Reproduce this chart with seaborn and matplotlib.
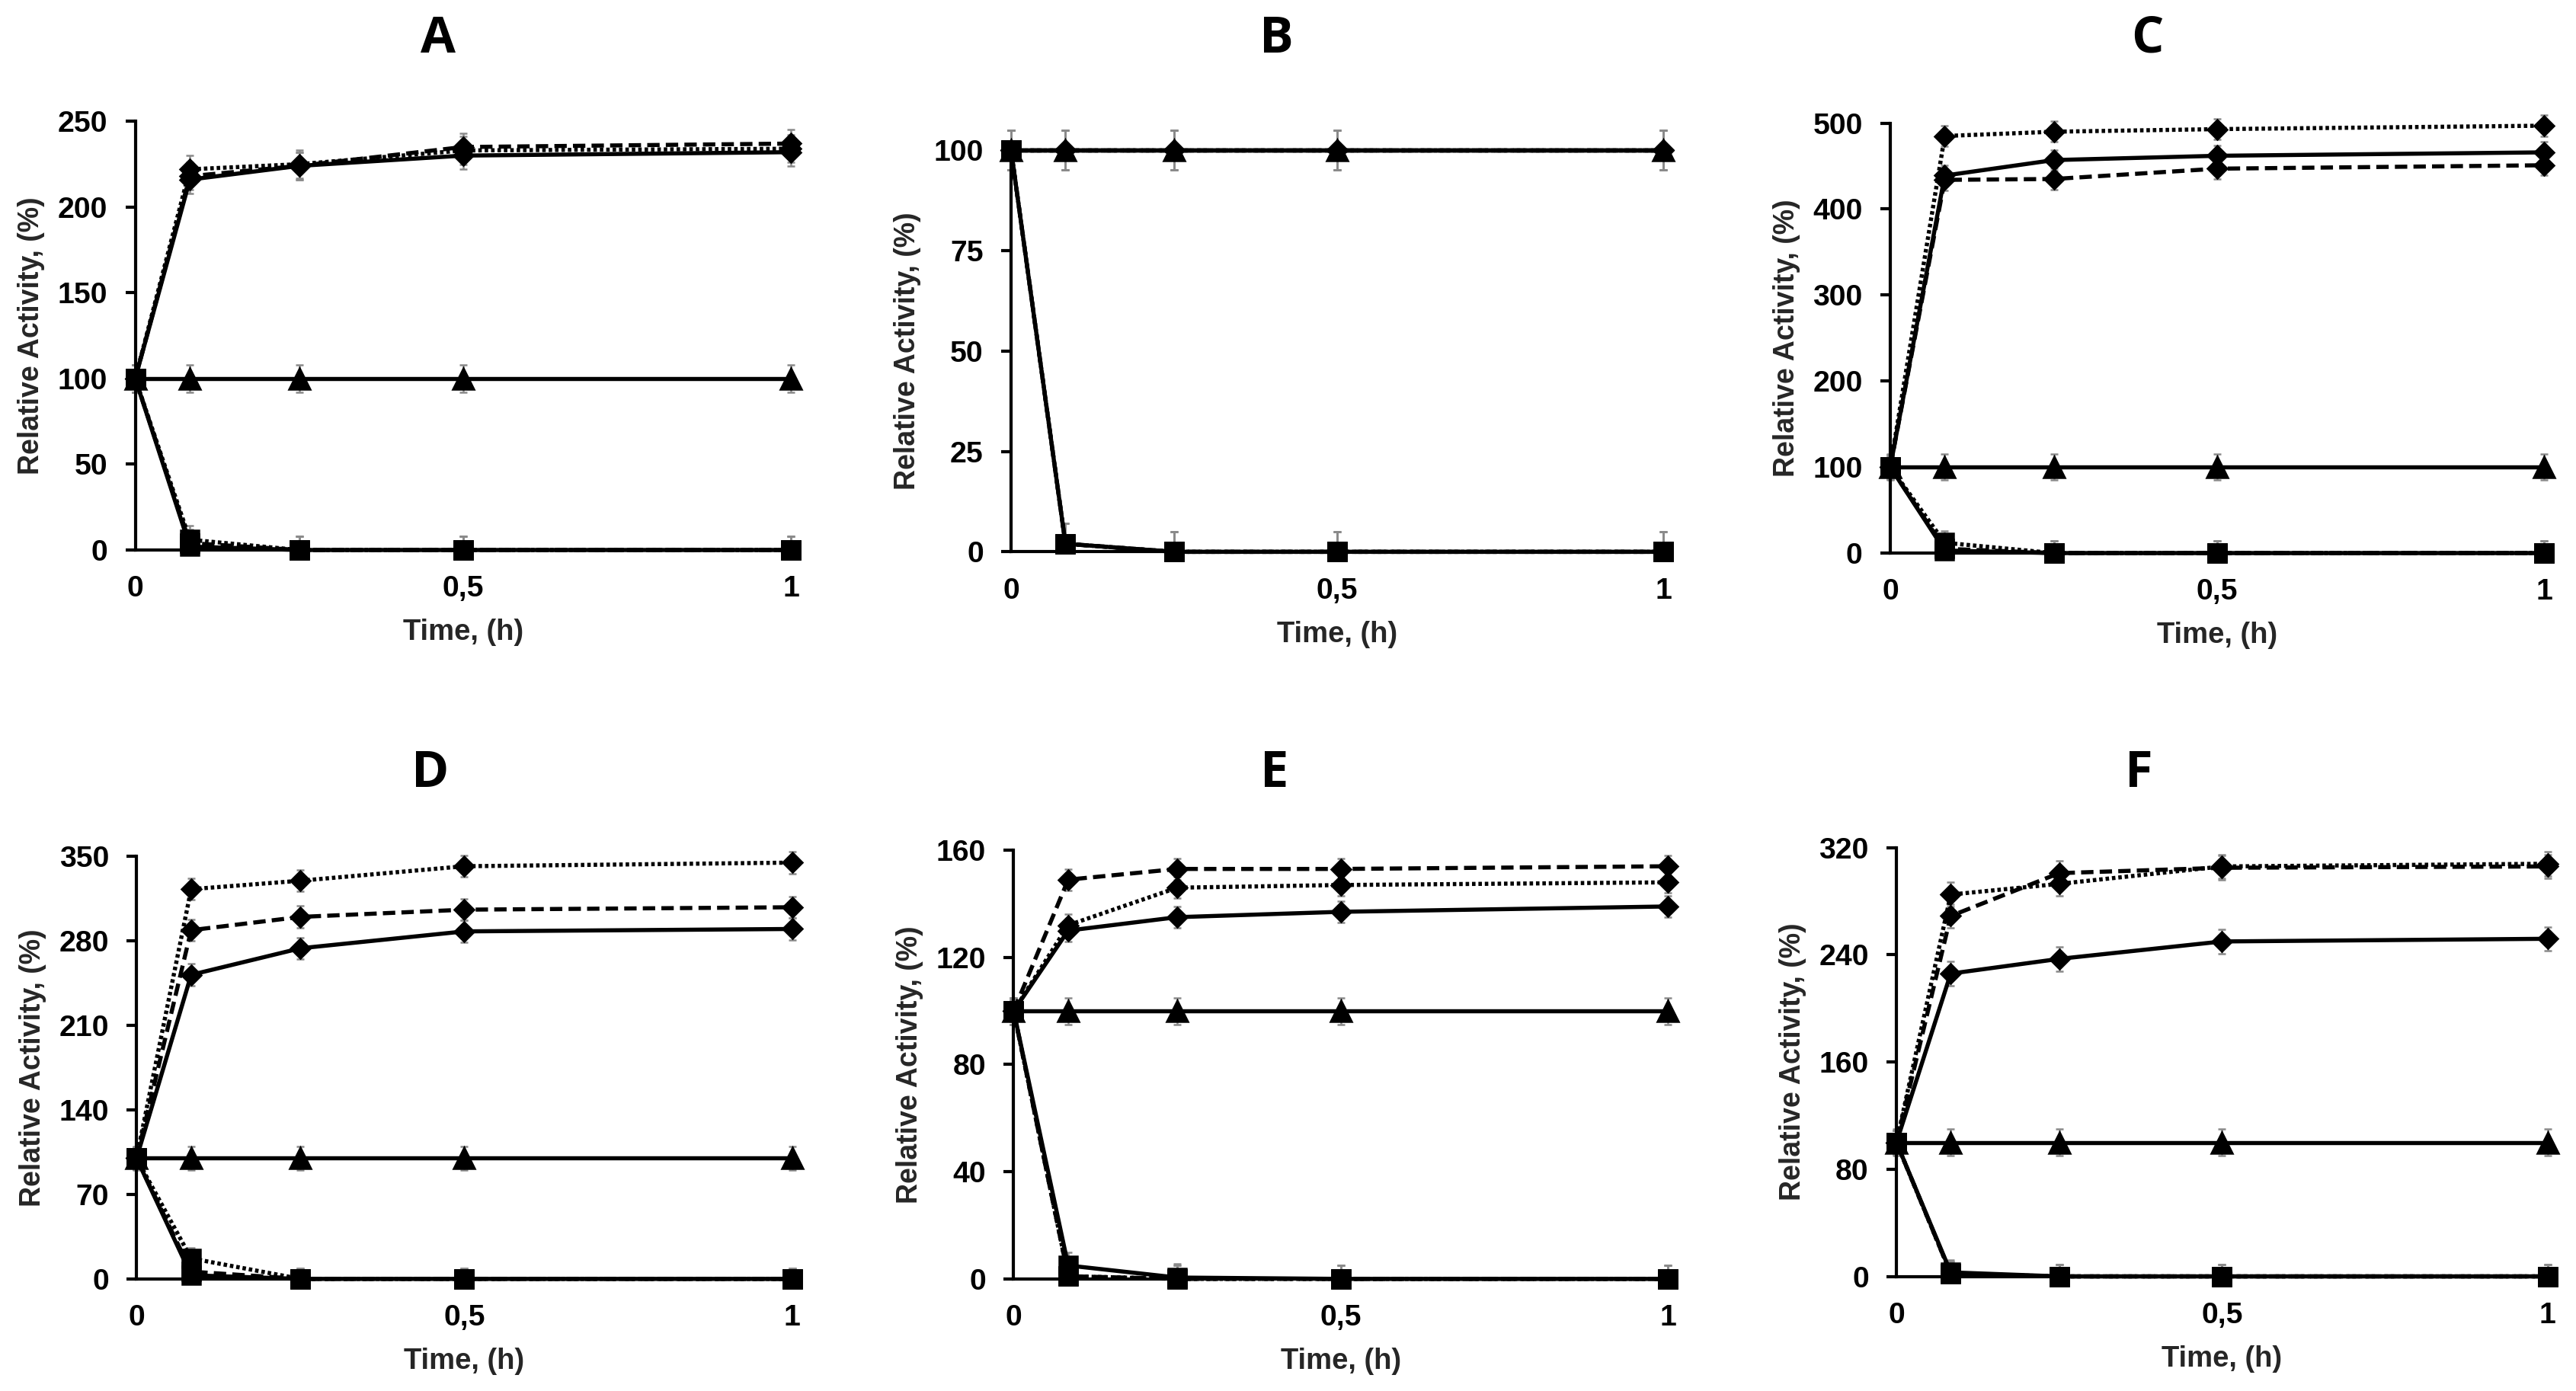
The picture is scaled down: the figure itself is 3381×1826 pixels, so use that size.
import numpy as np
import pandas as pd
import matplotlib
matplotlib.use("Agg")
import matplotlib.pyplot as plt
import seaborn as sns

# ---------------- data ----------------
time = [0, 1/12, 0.25, 0.5, 1]
xtick_vals = [0, 0.5, 1]
xtick_labels = ["0", "0,5", "1"]
panel_names = ["A", "B", "C", "D", "E", "F"]

# y axis ticks per panel
yticks_A = [0, 50, 100, 150, 200, 250]
yticks_B = [0, 25, 50, 75, 100]
yticks_C = [0, 100, 200, 300, 400, 500]
yticks_D = [0, 70, 140, 210, 280, 350]
yticks_E = [0, 40, 80, 120, 160]
yticks_F = [0, 80, 160, 240, 320]

# diamond series (solid / dashed / dotted)
A_dia_solid = [100, 216, 224, 230, 232]
A_dia_dash = [100, 218, 224, 235, 237]
A_dia_dot = [100, 222, 225, 233, 234]
B_dia_solid = [100, 100, 100, 100, 100]
B_dia_dash = [100, 100, 100, 100, 100]
B_dia_dot = [100, 100, 100, 100, 100]
C_dia_solid = [100, 439, 457, 462, 466]
C_dia_dash = [100, 434, 435, 447, 451]
C_dia_dot = [100, 485, 490, 493, 497]
D_dia_solid = [100, 252, 274, 288, 290]
D_dia_dash = [100, 289, 300, 306, 308]
D_dia_dot = [100, 323, 330, 342, 345]
E_dia_solid = [100, 130, 135, 137, 139]
E_dia_dash = [100, 149, 153, 153, 154]
E_dia_dot = [100, 132, 146, 147, 148]
F_dia_solid = [100, 226, 237, 250, 252]
F_dia_dash = [100, 269, 301, 305, 306]
F_dia_dot = [100, 285, 293, 306, 308]

# triangle (control) series
A_tri = [100, 100, 100, 100, 100]
B_tri = [100, 100, 100, 100, 100]
C_tri = [100, 100, 100, 100, 100]
D_tri = [100, 100, 100, 100, 100]
E_tri = [100, 100, 100, 100, 100]
F_tri = [100, 100, 100, 100, 100]

# square series (solid / dashed / dotted)
A_sq_solid = [100, 2, 0, 0, 0]
A_sq_dash = [100, 4, 0, 0, 0]
A_sq_dot = [100, 6, 0, 0, 0]
B_sq_solid = [100, 2, 0, 0, 0]
B_sq_dash = [100, 2, 0, 0, 0]
B_sq_dot = [100, 2, 0, 0, 0]
C_sq_solid = [100, 3, 0, 0, 0]
C_sq_dash = [100, 5, 0, 0, 0]
C_sq_dot = [100, 12, 0, 0, 0]
D_sq_solid = [100, 3, 0, 0, 0]
D_sq_dash = [100, 6, 0, 0, 0]
D_sq_dot = [100, 17, 0, 0, 0]
E_sq_solid = [100, 5, 0.5, 0, 0]
E_sq_dash = [100, 1, 0, 0, 0]
E_sq_dot = [100, 1, 0, 0, 0]
F_sq_solid = [100, 3, 0, 0, 0]
F_sq_dash = [100, 2, 0, 0, 0]
F_sq_dot = [100, 2, 0, 0, 0]

# error magnitudes per panel (diamonds, triangles, squares)
err_dia = {"A": 8, "B": 5, "C": 12, "D": 9, "E": 4, "F": 9}
err_tri = {"A": 8, "B": 5, "C": 15, "D": 10, "E": 5, "F": 10}
err_sq = {"A": 8, "B": 5, "C": 14, "D": 9, "E": 5, "F": 9}

panels = {
    "A": (yticks_A, [A_dia_solid, A_dia_dash, A_dia_dot], A_tri, [A_sq_solid, A_sq_dash, A_sq_dot]),
    "B": (yticks_B, [B_dia_solid, B_dia_dash, B_dia_dot], B_tri, [B_sq_solid, B_sq_dash, B_sq_dot]),
    "C": (yticks_C, [C_dia_solid, C_dia_dash, C_dia_dot], C_tri, [C_sq_solid, C_sq_dash, C_sq_dot]),
    "D": (yticks_D, [D_dia_solid, D_dia_dash, D_dia_dot], D_tri, [D_sq_solid, D_sq_dash, D_sq_dot]),
    "E": (yticks_E, [E_dia_solid, E_dia_dash, E_dia_dot], E_tri, [E_sq_solid, E_sq_dash, E_sq_dot]),
    "F": (yticks_F, [F_dia_solid, F_dia_dash, F_dia_dot], F_tri, [F_sq_solid, F_sq_dash, F_sq_dot]),
}

# ---------------- style ----------------
sns.set_theme(style="ticks")
plt.rcParams["font.family"] = ["Liberation Sans", "DejaVu Sans"]
plt.rcParams["font.weight"] = "bold"
plt.rcParams["axes.labelweight"] = "bold"

W, H, DPI = 3381, 1826, 300
fig = plt.figure(figsize=(W / DPI, H / DPI), dpi=DPI)
fig.patch.set_facecolor("white")

axes_pos = {
    "A": [0.0525, 0.6046, 0.2545, 0.3082],
    "B": [0.3925, 0.6033, 0.2532, 0.2888],
    "C": [0.7338, 0.6024, 0.2538, 0.3091],
    "D": [0.0530, 0.0806, 0.2545, 0.3036],
    "E": [0.3935, 0.0806, 0.2540, 0.3082],
    "F": [0.7362, 0.0824, 0.2528, 0.3082],
}
title_pos = {
    "A": (0.170, 0.972), "B": (0.4955, 0.972), "C": (0.8336, 0.972),
    "D": (0.167, 0.4436), "E": (0.4948, 0.4436), "F": (0.8304, 0.4436),
}

styles = ["-", (0, (3.0, 1.5)), (0, (0.85, 0.7))]
LW = 1.3
ERRC = "#8a8a8a"


def draw_series(ax, y, err, marker, ms, ls):
    y = np.asarray(y, dtype=float)
    lo = np.minimum(err, y)
    hi = np.full_like(y, float(err))
    ax.errorbar(time, y, yerr=[lo, hi], fmt="none", ecolor=ERRC,
                elinewidth=0.6, capsize=1.3, capthick=0.6, clip_on=False, zorder=2)
    df = pd.DataFrame({"t": time, "v": y})
    sns.lineplot(data=df, x="t", y="v", ax=ax, color="black", linewidth=LW,
                 linestyle=ls, marker=marker, markersize=ms,
                 markeredgecolor="black", markerfacecolor="black",
                 markeredgewidth=0.6, clip_on=False, zorder=3)


for name in panel_names:
    yt, dias, tri, sqs = panels[name]
    ax = fig.add_axes(axes_pos[name])
    for d, ls in zip(dias, styles):
        draw_series(ax, d, err_dia[name], "D", 4.5, ls)
    for s, ls in zip(sqs, styles):
        draw_series(ax, s, err_sq[name], "s", 5.9, ls)
    draw_series(ax, tri, err_tri[name], "^", 6.8, "-")

    ax.set_xlim(0, 1)
    ax.set_ylim(0, yt[-1])
    ax.set_yticks(yt)
    ax.set_yticklabels([str(v) for v in yt])
    ax.set_xticks(xtick_vals)
    ax.set_xticklabels(xtick_labels)
    for sp in ["top", "right"]:
        ax.spines[sp].set_visible(False)
    for sp in ["left", "bottom"]:
        ax.spines[sp].set_linewidth(1.0)
        ax.spines[sp].set_color("black")
    ax.tick_params(axis="y", length=3.2, width=1.0, direction="out", pad=5.5,
                   labelsize=9.4, colors="black")
    ax.tick_params(axis="x", length=0, pad=8, labelsize=9.4, colors="black")
    for lab in ax.get_xticklabels() + ax.get_yticklabels():
        lab.set_fontweight("bold")
    ax.set_xlabel("Time, (h)", fontsize=9.2, fontweight="bold", labelpad=5)
    ax.set_ylabel("Relative Activity, (%)", fontsize=9.0, fontweight="bold", labelpad=4)
    ax.set_facecolor("white")
    ax.grid(False)

    tx, ty = title_pos[name]
    fig.text(tx, ty, name, ha="center", va="center", fontsize=16,
             fontweight="bold", family=["Open Sans", "DejaVu Sans"], color="black")

fig.savefig("out.png", dpi=DPI, facecolor="white")
